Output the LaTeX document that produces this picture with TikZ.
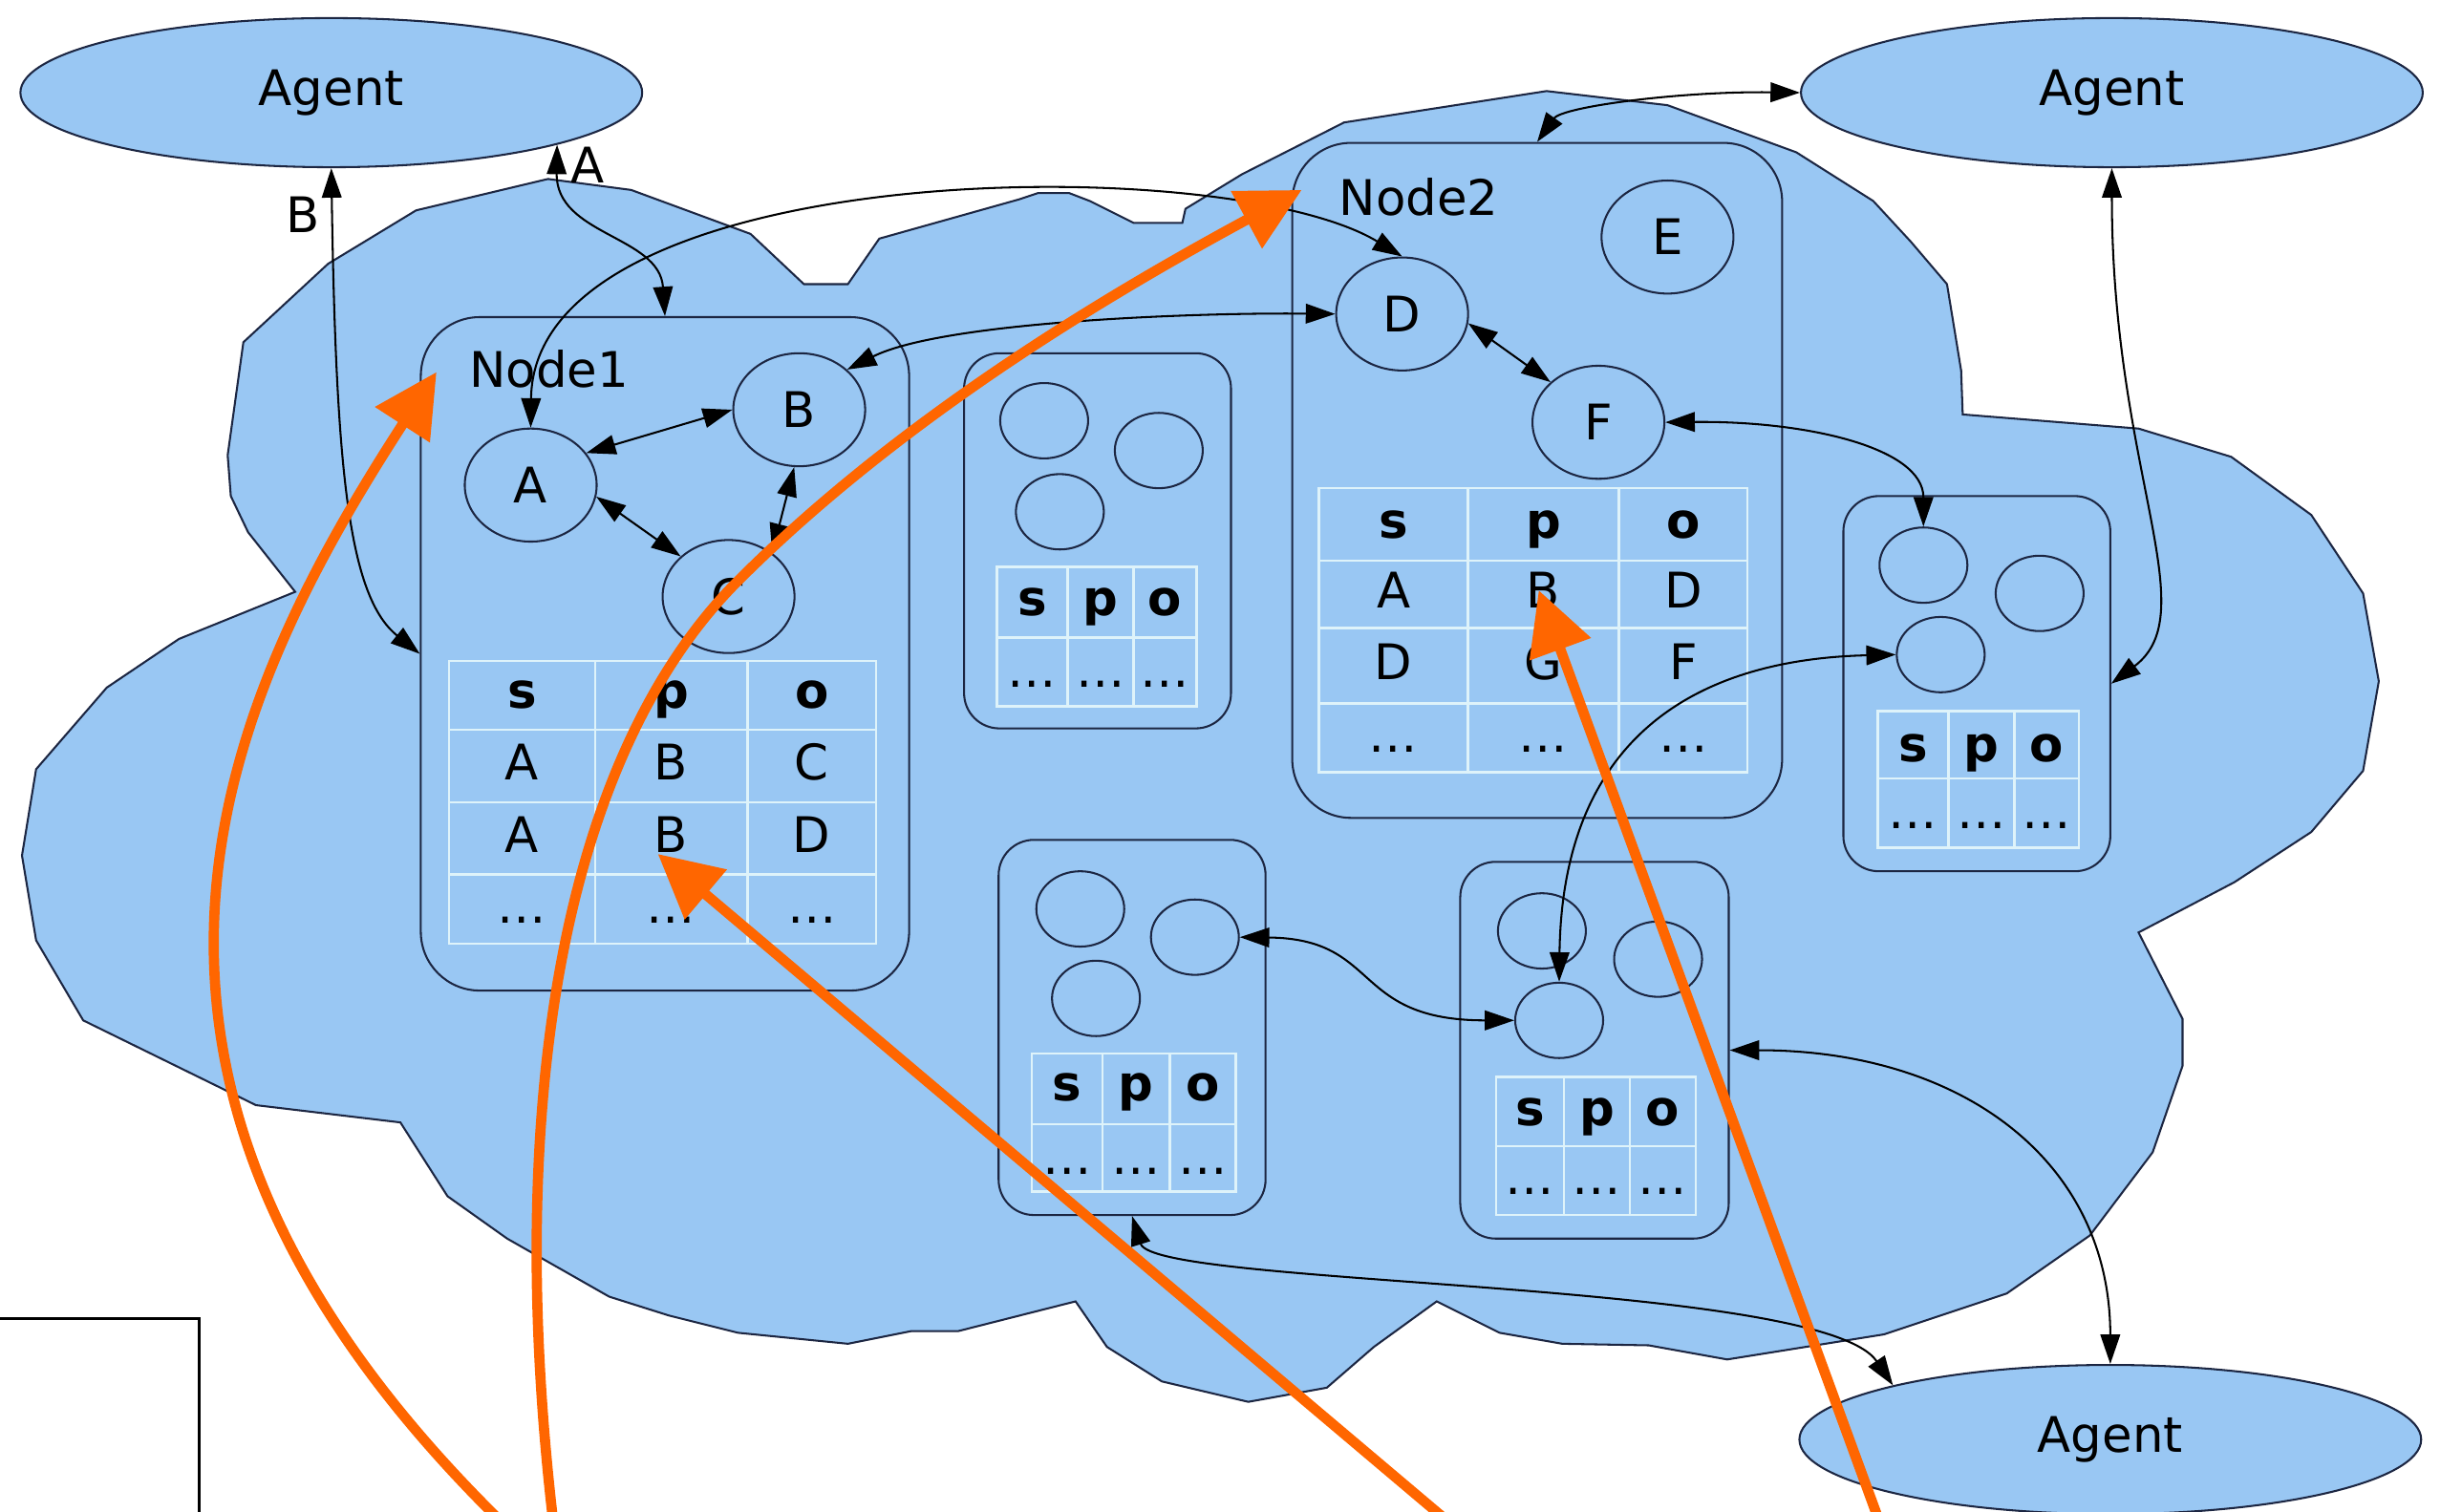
\documentclass[tikz,border=0pt]{standalone}
\usepackage{fontspec}
\setmainfont{DejaVu Sans}
\usetikzlibrary{shapes.geometric,arrows.meta}

\definecolor{skyColor}{RGB}{153,199,243}
\definecolor{lineColor}{RGB}{28,38,66}
\definecolor{gridColor}{RGB}{222,243,250}
\definecolor{hintColor}{RGB}{255,102,0}

\tikzset{
  txt/.style={inner sep=0pt, outer sep=0pt, font=\fontsize{12.5pt}{15pt}\selectfont},
  head/.style={txt, anchor=base, font=\fontsize{12.5pt}{15pt}\selectfont\bfseries},
  cell/.style={txt, anchor=base},
  agent/.style={ellipse, draw=lineColor, fill=skyColor, line width=0.5pt, inner sep=0pt,
    minimum width=158.4pt, minimum height=38pt, font=\fontsize{12.5pt}{15pt}\selectfont},
  peer/.style={draw=lineColor, fill=skyColor, line width=0.5pt, inner sep=0pt},
  res/.style={ellipse, draw=lineColor, fill=skyColor, line width=0.5pt, inner sep=0pt,
    minimum width=33.6pt, minimum height=28.8pt, font=\fontsize{12.5pt}{15pt}\selectfont},
  blob/.style={ellipse, draw=lineColor, fill=skyColor, line width=0.5pt, inner sep=0pt,
    minimum width=22.4pt, minimum height=19.2pt},
  cellline/.style={draw=gridColor, line width=0.6pt},
  link/.style={{Triangle[length=7.5pt,width=5pt]}-{Triangle[length=7.5pt,width=5pt]},
    draw=black, line width=0.5pt},
  hint/.style={draw=hintColor, line width=2.6pt, -{Triangle[length=16pt,width=16pt]}}
}

\begin{document}
\begin{tikzpicture}[x=0.4pt,y=0.4pt]
\path[use as bounding box,fill=white] (0,0) rectangle (1568,-963);

% cloud
\path[draw=lineColor,line width=0.5pt,fill=skyColor]
  (349,-114) -- (402,-121) -- (478,-149) -- (512,-181) -- (540,-181) -- (560,-152)
  -- (649,-127) -- (661,-123) -- (681,-123) -- (694,-128) -- (722,-142) -- (753,-142)
  -- (755,-133) -- (791,-111) -- (856,-78) -- (985,-58) -- (1062,-67) -- (1144,-97)
  -- (1193,-128) -- (1217,-154) -- (1240,-181) -- (1249,-236) -- (1250,-264)
  -- (1362,-273) -- (1421,-291) -- (1472,-328) -- (1505,-378) -- (1515,-434)
  -- (1505,-491) -- (1472,-530) -- (1423,-562) -- (1362,-594) -- (1390,-649)
  -- (1390,-679) -- (1371,-734) -- (1331,-787) -- (1278,-824) -- (1200,-850)
  -- (1100,-866) -- (1050,-857) -- (995,-856) -- (955,-849) -- (915,-829)
  -- (875,-858) -- (845,-884) -- (795,-893) -- (740,-880) -- (705,-858) -- (685,-829)
  -- (610,-848) -- (580,-848) -- (540,-856) -- (470,-849) -- (426,-838) -- (388,-826)
  -- (323,-789) -- (285,-762) -- (255,-715) -- (163,-704) -- (53,-650) -- (23,-599)
  -- (14,-545) -- (23,-490) -- (68,-438) -- (114,-407) -- (188,-377) -- (158,-339)
  -- (147,-316) -- (145,-290) -- (155,-218) -- (209,-168) -- (265,-134) -- cycle;

% agents
\node[agent] (agentTL) at (211,-59) {Agent};
\node[agent] (agentTR) at (1345,-59) {Agent};
\node[agent] (agentBR) at (1344,-917) {Agent};

% peers
\node[peer,rounded corners=15pt,minimum width=124.4pt,minimum height=171.6pt] (node1) at (423.5,-416.5) {};
\node[peer,rounded corners=15pt,minimum width=124.8pt,minimum height=172pt] (node2) at (979,-306) {};
\node[peer,rounded corners=9pt,minimum width=68pt,minimum height=95.6pt] (node3) at (699,-344.5) {};
\node[peer,rounded corners=9pt,minimum width=68pt,minimum height=95.6pt] (node4) at (1259,-435.5) {};
\node[peer,rounded corners=9pt,minimum width=68pt,minimum height=95.6pt] (node5) at (721,-654.5) {};
\node[peer,rounded corners=9pt,minimum width=68.4pt,minimum height=96pt] (node6) at (1015.5,-669) {};

\node[txt,anchor=base west] (node1lbl) at (299,-247) {Node1};
\node[txt,anchor=base west] (node2lbl) at (853,-137) {Node2};

% resources
\node[res] (A) at (338,-309) {A};
\node[res] (B) at (509,-261) {B};
\node[res] (C) at (464,-380) {C};
\node[res] (D) at (893,-200) {D};
\node[res] (E) at (1062,-151) {E};
\node[res] (F) at (1018,-269) {F};

\node[blob] (n3a) at (665,-268) {};
\node[blob] (n3b) at (738,-287) {};
\node[blob] (n3c) at (675,-326) {};
\node[blob] (n4a) at (1225,-360) {};
\node[blob] (n4b) at (1299,-378) {};
\node[blob] (n4c) at (1236,-417) {};
\node[blob] (n5a) at (688,-579) {};
\node[blob] (n5b) at (761,-597) {};
\node[blob] (n5c) at (698,-636) {};
\node[blob] (n6a) at (982,-593) {};
\node[blob] (n6b) at (1056,-611) {};
\node[blob] (n6c) at (993,-650) {};

% tables
\draw[cellline] (286,-421) rectangle (558,-601) (379,-421) -- (379,-601) (476,-421) -- (476,-601)
  (286,-465) -- (558,-465) (286,-511) -- (558,-511) (286,-557) -- (558,-557);
\node[head] (t1s) at (332.5,-451) {s};
\node[head] (t1p) at (427.5,-451) {p};
\node[head] (t1o) at (517,-451) {o};
\node[cell] (t1a) at (332.5,-497) {A};
\node[cell] (t1b) at (427.5,-497) {B};
\node[cell] (t1c) at (517,-497) {C};
\node[cell] (t1d) at (332.5,-543) {A};
\node[cell] (t1e) at (427.5,-543) {B};
\node[cell] (t1f) at (517,-543) {D};
\node[cell] (t1g) at (332.5,-588) {…};
\node[cell] (t1h) at (427.5,-588) {…};
\node[cell] (t1i) at (517,-588) {…};

\draw[cellline] (840,-311) rectangle (1113,-492) (935,-311) -- (935,-492) (1031,-311) -- (1031,-492)
  (840,-357) -- (1113,-357) (840,-400) -- (1113,-400) (840,-448) -- (1113,-448);
\node[head] (t2s) at (887.5,-343) {s};
\node[head] (t2p) at (983,-343) {p};
\node[head] (t2o) at (1072,-343) {o};
\node[cell] (t2a) at (887.5,-387) {A};
\node[cell] (t2b) at (983,-387) {B};
\node[cell] (t2c) at (1072,-387) {D};
\node[cell] (t2d) at (887.5,-433) {D};
\node[cell] (t2e) at (983,-433) {G};
\node[cell] (t2f) at (1072,-433) {F};
\node[cell] (t2g) at (887.5,-479) {…};
\node[cell] (t2h) at (983,-479) {…};
\node[cell] (t2i) at (1072,-479) {…};

\draw[cellline] (635,-361) rectangle (762,-450) (680,-361) -- (680,-450) (722,-361) -- (722,-450)
  (635,-406) -- (762,-406);
\node[head] (t3s) at (657.5,-392) {s};
\node[head] (t3p) at (701,-392) {p};
\node[head] (t3o) at (742,-392) {o};
\node[cell] (t3a) at (657.5,-438) {…};
\node[cell] (t3b) at (701,-438) {…};
\node[cell] (t3c) at (742,-438) {…};

\draw[cellline] (1196,-453) rectangle (1324,-540) (1241,-453) -- (1241,-540) (1283,-453) -- (1283,-540)
  (1196,-496) -- (1324,-496);
\node[head] (t4s) at (1218.5,-485) {s};
\node[head] (t4p) at (1262,-485) {p};
\node[head] (t4o) at (1303.5,-485) {o};
\node[cell] (t4a) at (1218.5,-528) {…};
\node[cell] (t4b) at (1262,-528) {…};
\node[cell] (t4c) at (1303.5,-528) {…};

\draw[cellline] (657,-671) rectangle (787,-759) (702,-671) -- (702,-759) (745,-671) -- (745,-759)
  (657,-716) -- (787,-716);
\node[head] (t5s) at (679.5,-701) {s};
\node[head] (t5p) at (723.5,-701) {p};
\node[head] (t5o) at (766,-701) {o};
\node[cell] (t5a) at (679.5,-748) {…};
\node[cell] (t5b) at (723.5,-748) {…};
\node[cell] (t5c) at (766,-748) {…};

\draw[cellline] (953,-686) rectangle (1080,-774) (996,-686) -- (996,-774) (1038,-686) -- (1038,-774)
  (953,-730) -- (1080,-730);
\node[head] (t6s) at (974.5,-717) {s};
\node[head] (t6p) at (1017,-717) {p};
\node[head] (t6o) at (1059,-717) {o};
\node[cell] (t6a) at (974.5,-761) {…};
\node[cell] (t6b) at (1017,-761) {…};
\node[cell] (t6c) at (1059,-761) {…};

% connectors
\draw[link] (agentTL.south) .. controls (214,-300) and (222,-380) .. (node1.west);
\draw[link] (agentTL.-13) .. controls (354,-150) and (420,-150) .. (node1.north);
\node[txt] (lblB) at (193,-137) {B};
\node[txt] (lblA) at (374,-105) {A};
\draw[link] (A.north) .. controls (340,-100) and (780,-95) .. (D.north);
\draw[link] (B.40) .. controls (600,-205) and (760,-199) .. (D.west);
\draw[link] (A.30) -- (B.west);
\draw[link] (A.-10) -- (C.140);
\draw[link] (C.45) -- (B.-95);
\draw[link] (D.-8) -- (F.140);
\draw[link] (F.east) .. controls (1150,-268) and (1225,-285) .. (n4a.north);
\draw[link] (node2.north) .. controls (995,-68) and (1070,-58) .. (agentTR.west);
\draw[link] (agentTR.south) .. controls (1345,-300) and (1405,-390) .. (node4.east);
\draw[link] (n4c.west) .. controls (1080,-420) and (995,-470) .. (n6c.north);
\draw[link] (n5b.east) .. controls (880,-598) and (860,-650) .. (n6c.west);
\draw[link] (node6.east) .. controls (1250,-669) and (1344,-740) .. (agentBR.north);
\draw[link] (node5.south) .. controls (735,-820) and (1160,-815) .. (agentBR.166);

% pointers
\coordinate (o1s) at (325,-975);
\coordinate (o1e) at (278,-237);
\coordinate (o2s) at (353,-975);
\coordinate (o2e) at (829,-121);
\coordinate (o3s) at (929,-975);
\coordinate (o3e) at (419,-544);
\coordinate (o4s) at (1199,-975);
\coordinate (o4e) at (980,-376);
\draw[hint] (o1s) .. controls (30,-690) and (140,-450) .. (o1e);
\draw[hint] (o2s) .. controls (320,-700) and (360,-480) .. (470,-370) .. controls (580,-260) and (720,-180) .. (o2e);
\draw[hint] (o3s) -- (o3e);
\draw[hint] (o4s) -- (o4e);

% frame corner
\draw[line width=0.6pt] (0,-840) -- (127,-840) -- (127,-975);
\end{tikzpicture}
\end{document}
